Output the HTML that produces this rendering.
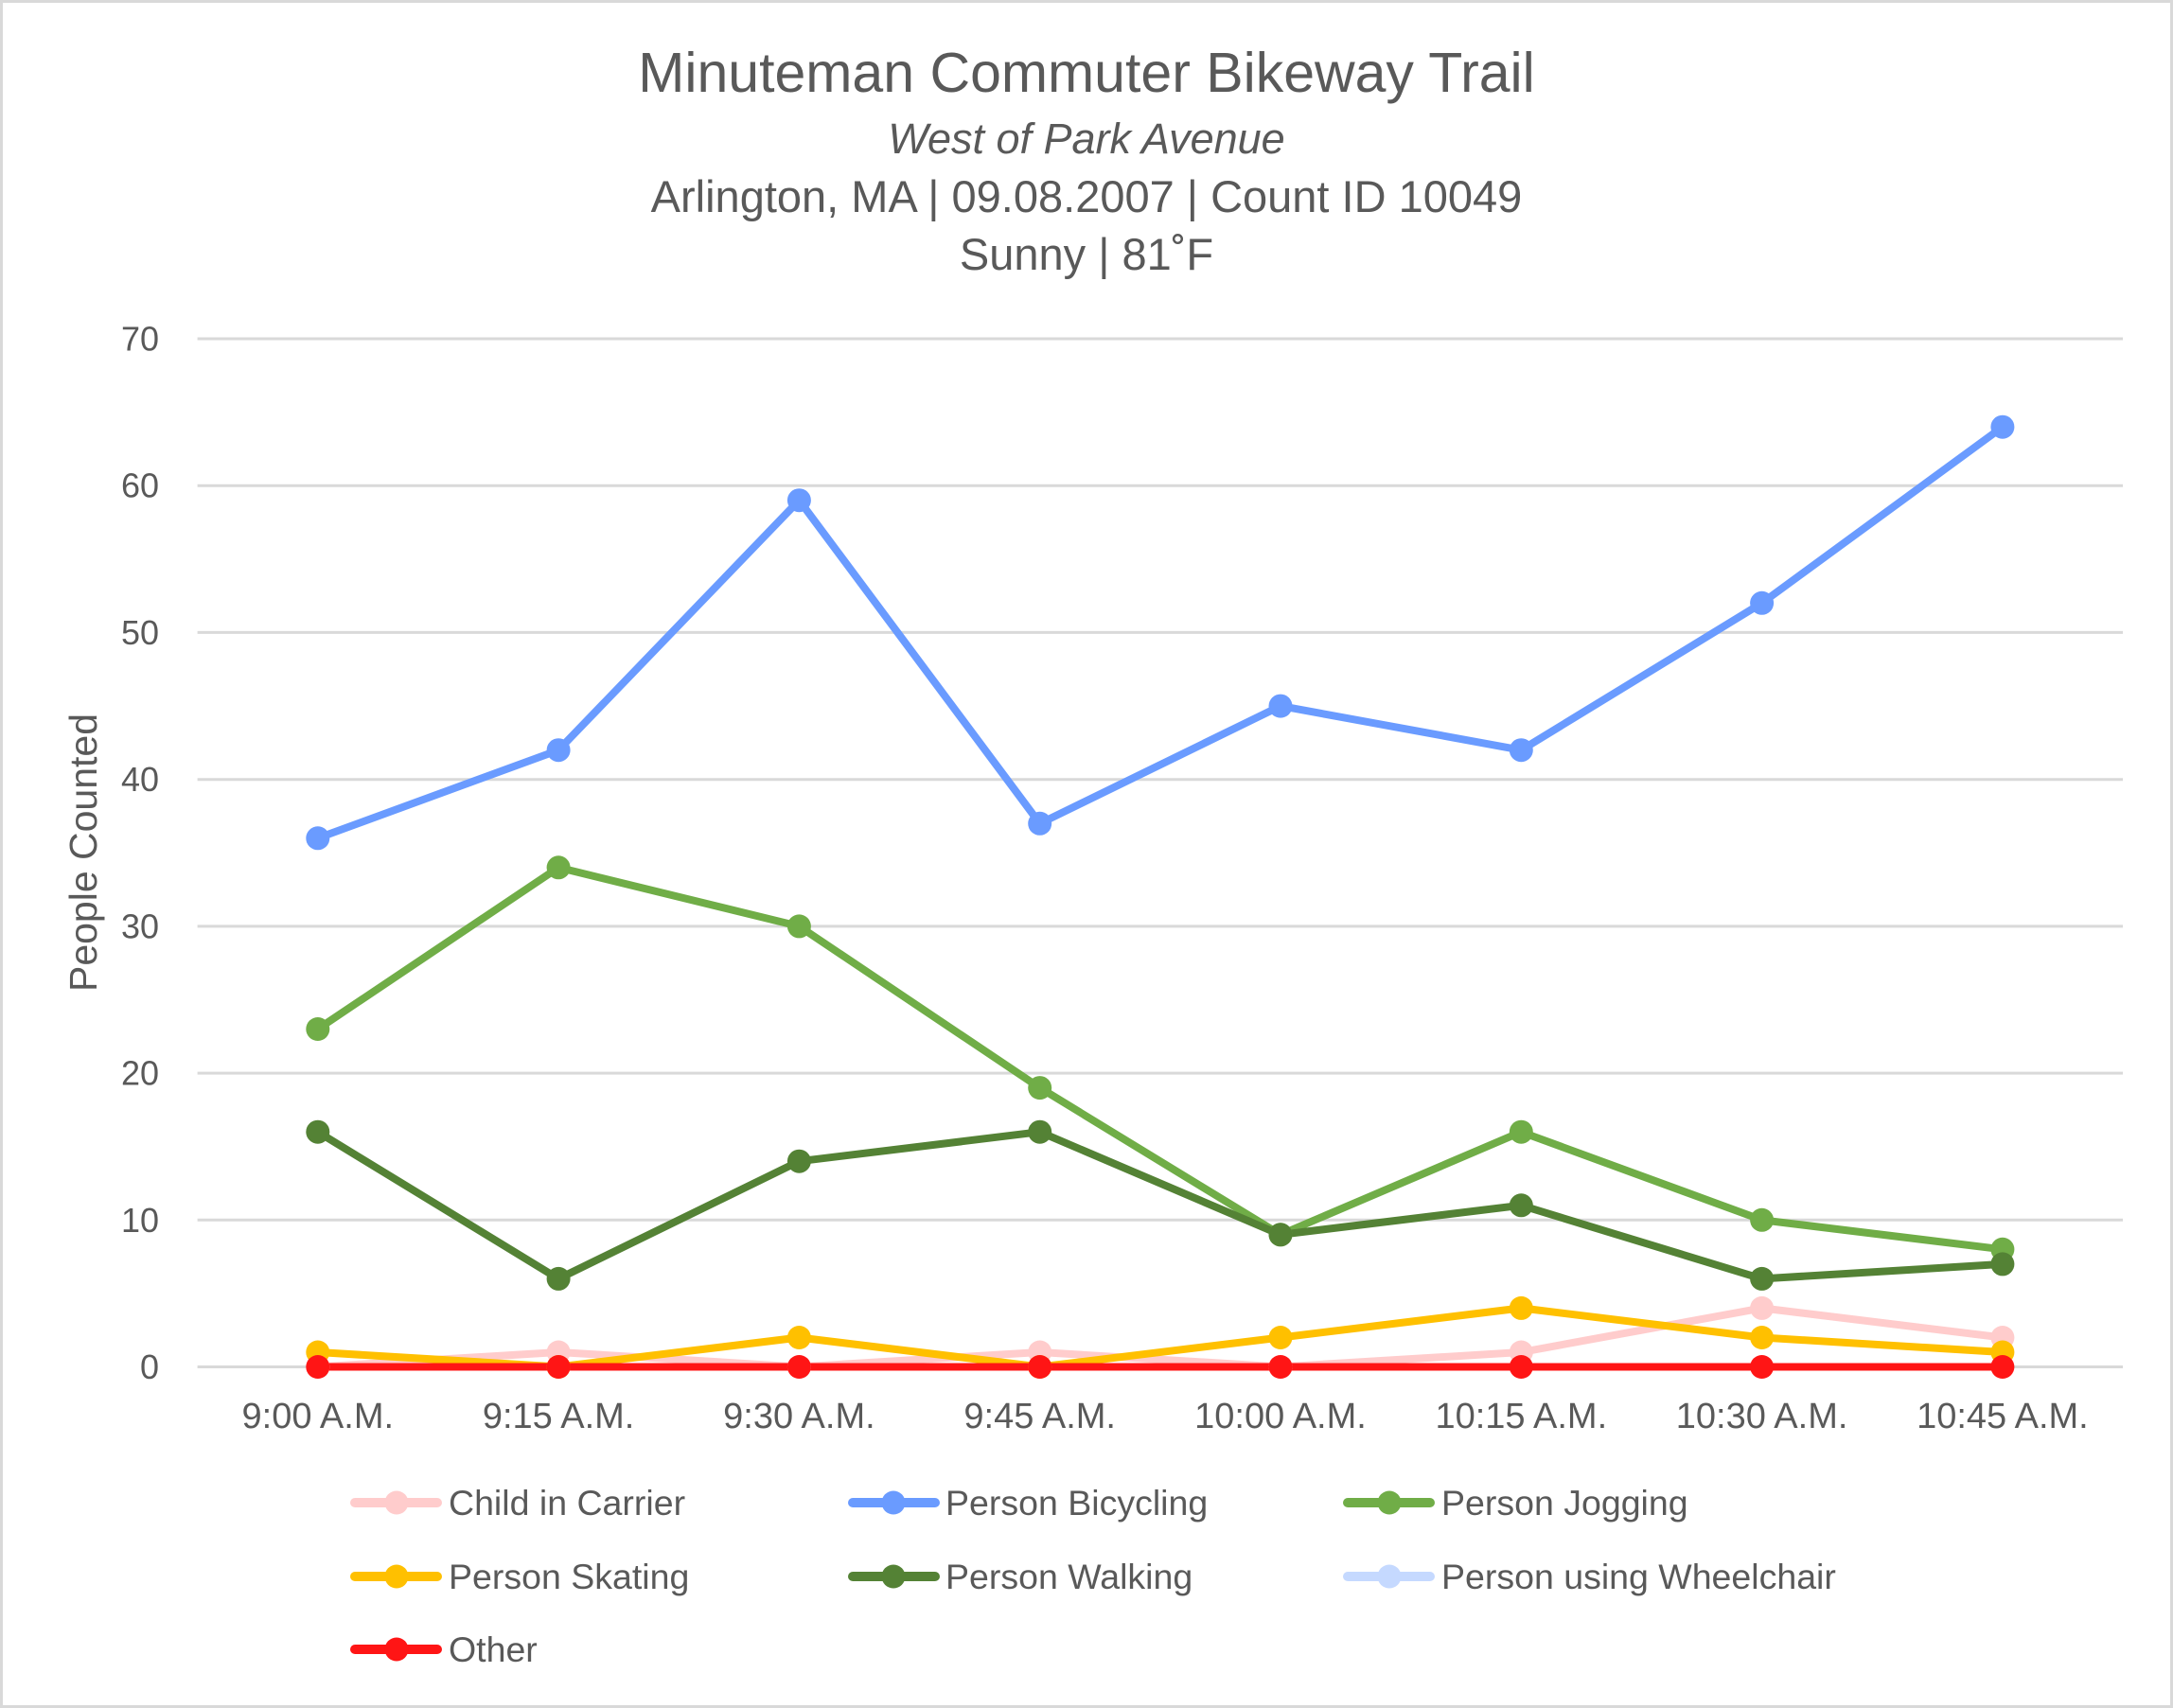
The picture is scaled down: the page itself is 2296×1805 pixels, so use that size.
<!DOCTYPE html>
<html><head><meta charset="utf-8"><style>
html,body{margin:0;padding:0;background:#fff;}
svg{display:block;}
text{font-family:"Liberation Sans",sans-serif;fill:#595959;}
</style></head><body>
<svg width="2296" height="1805" viewBox="0 0 2296 1805" xmlns="http://www.w3.org/2000/svg">
<rect x="1.5" y="1.5" width="2293" height="1802" fill="#fff" stroke="#D9D9D9" stroke-width="3"/>
<!-- titles -->
<text x="1148" y="97" font-size="59" text-anchor="middle">Minuteman Commuter Bikeway Trail</text>
<text x="1148" y="162" font-size="45" font-style="italic" text-anchor="middle">West of Park Avenue</text>
<text x="1148" y="224" font-size="47" text-anchor="middle">Arlington, MA | 09.08.2007 | Count ID 10049</text>
<text x="1148" y="285" font-size="47" text-anchor="middle">Sunny | 81&#730;F</text>
<!-- gridlines -->
<g stroke="#D9D9D9" stroke-width="3">
<line x1="208.6" y1="358" x2="2243" y2="358"/>
<line x1="208.6" y1="513.2" x2="2243" y2="513.2"/>
<line x1="208.6" y1="668.4" x2="2243" y2="668.4"/>
<line x1="208.6" y1="823.7" x2="2243" y2="823.7"/>
<line x1="208.6" y1="978.9" x2="2243" y2="978.9"/>
<line x1="208.6" y1="1134.1" x2="2243" y2="1134.1"/>
<line x1="208.6" y1="1289.3" x2="2243" y2="1289.3"/>
<line x1="208.6" y1="1444.5" x2="2243" y2="1444.5"/>
</g>
<!-- y tick labels -->
<g font-size="36" text-anchor="end">
<text x="168" y="370.5">70</text>
<text x="168" y="525.7">60</text>
<text x="168" y="680.9">50</text>
<text x="168" y="836.2">40</text>
<text x="168" y="991.4">30</text>
<text x="168" y="1146.6">20</text>
<text x="168" y="1301.8">10</text>
<text x="168" y="1457">0</text>
</g>
<text transform="translate(102,901) rotate(-90)" font-size="41" text-anchor="middle">People Counted</text>
<!-- x tick labels -->
<g font-size="38" text-anchor="middle">
<text x="335.8" y="1509">9:00 A.M.</text>
<text x="590.1" y="1509">9:15 A.M.</text>
<text x="844.4" y="1509">9:30 A.M.</text>
<text x="1098.7" y="1509">9:45 A.M.</text>
<text x="1353" y="1509">10:00 A.M.</text>
<text x="1607.3" y="1509">10:15 A.M.</text>
<text x="1861.6" y="1509">10:30 A.M.</text>
<text x="2115.9" y="1509">10:45 A.M.</text>
</g>
<!-- series -->
<g fill="none" stroke-width="8" stroke-linejoin="round" stroke-linecap="round">
<polyline stroke="#FFCCCC" points="335.8,1444.5 590.1,1429 844.4,1444.5 1098.7,1429 1353,1444.5 1607.3,1429 1861.6,1382.4 2115.9,1413.5"/>
<polyline stroke="#6A9BFF" points="335.8,885.8 590.1,792.7 844.4,528.7 1098.7,870.3 1353,746.1 1607.3,792.7 1861.6,637.3 2115.9,451.2"/>
<polyline stroke="#70AD47" points="335.8,1087.5 590.1,916.8 844.4,978.9 1098.7,1149.6 1353,1304.8 1607.3,1196.2 1861.6,1289.3 2115.9,1320.3"/>
<polyline stroke="#FFC000" points="335.8,1429 590.1,1444.5 844.4,1413.5 1098.7,1444.5 1353,1413.5 1607.3,1382.4 1861.6,1413.5 2115.9,1429"/>
<polyline stroke="#548235" points="335.8,1196.2 590.1,1351.4 844.4,1227.2 1098.7,1196.2 1353,1304.8 1607.3,1273.8 1861.6,1351.4 2115.9,1335.9"/>
<polyline stroke="#C5D9FF" points="335.8,1444.5 2115.9,1444.5"/>
<polyline stroke="#FF1515" points="335.8,1444.5 2115.9,1444.5"/>
</g>
<!-- markers -->
<g fill="#FFCCCC">
<circle cx="335.8" cy="1444.5" r="12.5"/><circle cx="590.1" cy="1429" r="12.5"/><circle cx="844.4" cy="1444.5" r="12.5"/><circle cx="1098.7" cy="1429" r="12.5"/><circle cx="1353" cy="1444.5" r="12.5"/><circle cx="1607.3" cy="1429" r="12.5"/><circle cx="1861.6" cy="1382.4" r="12.5"/><circle cx="2115.9" cy="1413.5" r="12.5"/>
</g>
<g fill="#6A9BFF">
<circle cx="335.8" cy="885.8" r="12.5"/><circle cx="590.1" cy="792.7" r="12.5"/><circle cx="844.4" cy="528.7" r="12.5"/><circle cx="1098.7" cy="870.3" r="12.5"/><circle cx="1353" cy="746.1" r="12.5"/><circle cx="1607.3" cy="792.7" r="12.5"/><circle cx="1861.6" cy="637.3" r="12.5"/><circle cx="2115.9" cy="451.2" r="12.5"/>
</g>
<g fill="#70AD47">
<circle cx="335.8" cy="1087.5" r="12.5"/><circle cx="590.1" cy="916.8" r="12.5"/><circle cx="844.4" cy="978.9" r="12.5"/><circle cx="1098.7" cy="1149.6" r="12.5"/><circle cx="1353" cy="1304.8" r="12.5"/><circle cx="1607.3" cy="1196.2" r="12.5"/><circle cx="1861.6" cy="1289.3" r="12.5"/><circle cx="2115.9" cy="1320.3" r="12.5"/>
</g>
<g fill="#FFC000">
<circle cx="335.8" cy="1429" r="12.5"/><circle cx="590.1" cy="1444.5" r="12.5"/><circle cx="844.4" cy="1413.5" r="12.5"/><circle cx="1098.7" cy="1444.5" r="12.5"/><circle cx="1353" cy="1413.5" r="12.5"/><circle cx="1607.3" cy="1382.4" r="12.5"/><circle cx="1861.6" cy="1413.5" r="12.5"/><circle cx="2115.9" cy="1429" r="12.5"/>
</g>
<g fill="#548235">
<circle cx="335.8" cy="1196.2" r="12.5"/><circle cx="590.1" cy="1351.4" r="12.5"/><circle cx="844.4" cy="1227.2" r="12.5"/><circle cx="1098.7" cy="1196.2" r="12.5"/><circle cx="1353" cy="1304.8" r="12.5"/><circle cx="1607.3" cy="1273.8" r="12.5"/><circle cx="1861.6" cy="1351.4" r="12.5"/><circle cx="2115.9" cy="1335.9" r="12.5"/>
</g>
<g fill="#FF1515">
<circle cx="335.8" cy="1444.5" r="12.5"/><circle cx="590.1" cy="1444.5" r="12.5"/><circle cx="844.4" cy="1444.5" r="12.5"/><circle cx="1098.7" cy="1444.5" r="12.5"/><circle cx="1353" cy="1444.5" r="12.5"/><circle cx="1607.3" cy="1444.5" r="12.5"/><circle cx="1861.6" cy="1444.5" r="12.5"/><circle cx="2115.9" cy="1444.5" r="12.5"/>
</g>
<!-- legend -->
<g stroke-width="10" stroke-linecap="round">
<line x1="375" y1="1588" x2="462" y2="1588" stroke="#FFCCCC"/>
<line x1="901" y1="1588" x2="988" y2="1588" stroke="#6A9BFF"/>
<line x1="1424" y1="1588" x2="1511" y2="1588" stroke="#70AD47"/>
<line x1="375" y1="1666" x2="462" y2="1666" stroke="#FFC000"/>
<line x1="901" y1="1666" x2="988" y2="1666" stroke="#548235"/>
<line x1="1424" y1="1666" x2="1511" y2="1666" stroke="#C5D9FF"/>
<line x1="375" y1="1743" x2="462" y2="1743" stroke="#FF1515"/>
</g>
<circle cx="419" cy="1588" r="12.5" fill="#FFCCCC"/>
<circle cx="944" cy="1588" r="12.5" fill="#6A9BFF"/>
<circle cx="1468" cy="1588" r="12.5" fill="#70AD47"/>
<circle cx="419" cy="1666" r="12.5" fill="#FFC000"/>
<circle cx="944" cy="1666" r="12.5" fill="#548235"/>
<circle cx="1468" cy="1666" r="12.5" fill="#C5D9FF"/>
<circle cx="419" cy="1743" r="12.5" fill="#FF1515"/>
<g font-size="37.5">
<text x="474" y="1601">Child in Carrier</text>
<text x="999" y="1601">Person Bicycling</text>
<text x="1523" y="1601">Person Jogging</text>
<text x="474" y="1679">Person Skating</text>
<text x="999" y="1679">Person Walking</text>
<text x="1523" y="1679">Person using Wheelchair</text>
<text x="474" y="1756">Other</text>
</g>
</svg>
</body></html>
